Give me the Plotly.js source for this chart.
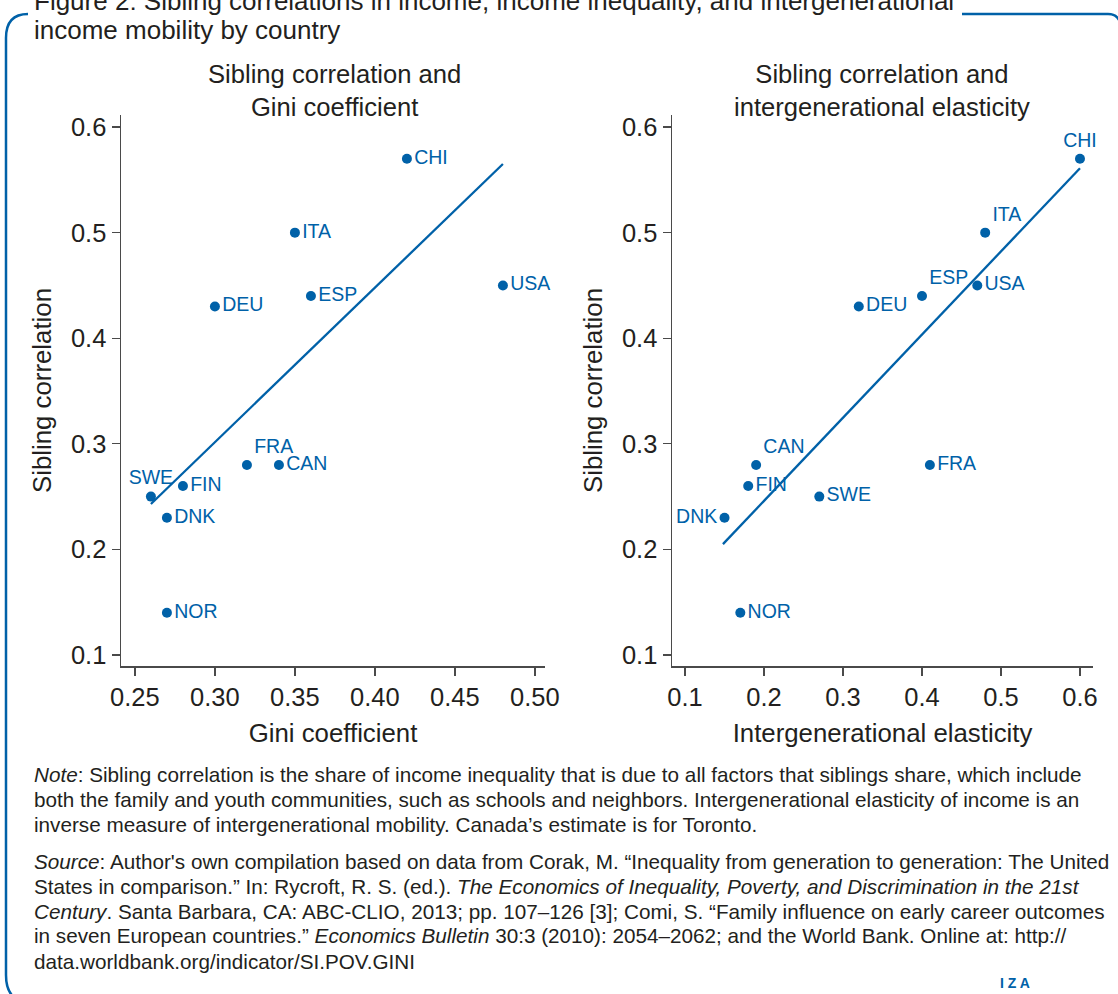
<!DOCTYPE html>
<html>
<head>
<meta charset="utf-8">
<script src="https://cdn.plot.ly/plotly-3.0.1.min.js"></script>
<style>html,body{margin:0;padding:0;background:#fff;}#chart{width:1118px;height:994px;}</style>
</head>
<body>
<div id="chart"></div>
<script>
// ---- data ----
const countries = ["CHI","ITA","USA","ESP","DEU","FRA","CAN","SWE","FIN","DNK","NOR"];
const sibling   = [0.57, 0.50, 0.45, 0.44, 0.43, 0.28, 0.28, 0.25, 0.26, 0.23, 0.14];
const gini      = [0.42, 0.35, 0.48, 0.36, 0.30, 0.32, 0.34, 0.26, 0.28, 0.27, 0.27];
const ige       = [0.60, 0.48, 0.47, 0.40, 0.32, 0.41, 0.19, 0.27, 0.18, 0.15, 0.17];
const giniFitX  = [0.26, 0.48];
const giniFitY  = [0.243, 0.565];
const igeFitX   = [0.148, 0.60];
const igeFitY   = [0.205, 0.561];
const giniTicks = [0.25, 0.30, 0.35, 0.40, 0.45, 0.50];
const giniTickText = ["0.25","0.30","0.35","0.40","0.45","0.50"];
const igeTicks  = [0.1, 0.2, 0.3, 0.4, 0.5, 0.6];
const sibTicks  = [0.1, 0.2, 0.3, 0.4, 0.5, 0.6];

// ---- style ----
const BLUE = "#0061a8";
const INK = "#231f20";
const FONT = "Liberation Sans, Arial, sans-serif";
const posLeft  = {CHI:"middle right",ITA:"middle right",USA:"middle right",ESP:"middle right",DEU:"middle right",
                  FRA:"top right",CAN:"middle right",SWE:"top center",FIN:"middle right",DNK:"middle right",NOR:"middle right"};
const posRight = {CHI:"top center",ITA:"top right",USA:"middle right",ESP:"top right",DEU:"middle right",
                  FRA:"middle right",CAN:"top right",SWE:"middle right",FIN:"middle right",DNK:"middle left",NOR:"middle right"};

// pixel -> paper helpers (plot area spans x 121..1093, y 115..666)
const L=121, R=1093, T=115, B=666;
const px = v => (v - L) / (R - L);
const py = v => 1 - (v - T) / (B - T);

const traces = [
  {x: gini, y: sibling, text: countries, mode: "markers+text", type: "scatter",
   textposition: countries.map(c => posLeft[c]),
   marker: {color: BLUE, size: 10}, textfont: {color: BLUE, size: 19.5, family: FONT},
   xaxis: "x", yaxis: "y", hoverinfo: "skip", cliponaxis: false},
  {x: giniFitX, y: giniFitY, mode: "lines", type: "scatter",
   line: {color: BLUE, width: 2.3}, xaxis: "x", yaxis: "y", hoverinfo: "skip"},
  {x: ige, y: sibling, text: countries, mode: "markers+text", type: "scatter",
   textposition: countries.map(c => posRight[c]),
   marker: {color: BLUE, size: 10}, textfont: {color: BLUE, size: 19.5, family: FONT},
   xaxis: "x2", yaxis: "y2", hoverinfo: "skip", cliponaxis: false},
  {x: igeFitX, y: igeFitY, mode: "lines", type: "scatter",
   line: {color: BLUE, width: 2.3}, xaxis: "x2", yaxis: "y2", hoverinfo: "skip"}
];

const TICKSZ = 25.5, TITLESZ = 25.8;
const axBase = {
  showgrid: false, zeroline: false, showline: true, linecolor: "#4a4a4a", linewidth: 1.5,
  ticks: "outside", ticklen: 8, tickwidth: 1.3, tickcolor: "#4a4a4a",
  tickfont: {size: TICKSZ, color: INK, family: FONT}, automargin: false
};

const ann = [];
function note(text, x, y, opts) {
  ann.push(Object.assign({text: text, x: px(x), y: py(y), xref: "paper", yref: "paper",
    xanchor: "left", yanchor: "middle", showarrow: false,
    font: {size: 20.7, color: INK, family: FONT}}, opts || {}));
}
// figure title
const TFONT = {size: 26, color: INK, family: FONT};
note("Figure 2: Sibling correlations in income, income inequality, and intergenerational", 32, 1, {font: TFONT});
note("income mobility by country", 32, 30, {font: TFONT});
// subplot titles
ann.push({text: "Sibling correlation and<br>Gini coefficient", x: px(334), y: py(90), xref: "paper", yref: "paper",
  xanchor: "center", yanchor: "middle", showarrow: false, font: {size: 25.6, color: INK, family: FONT}});
ann.push({text: "Sibling correlation and<br>intergenerational elasticity", x: px(882), y: py(90), xref: "paper", yref: "paper",
  xanchor: "center", yanchor: "middle", showarrow: false, font: {size: 25.6, color: INK, family: FONT}});
// note & source
const noteLines = [
  "<i>Note</i>: Sibling correlation is the share of income inequality that is due to all factors that siblings share, which include",
  "both the family and youth communities, such as schools and neighbors. Intergenerational elasticity of income is an",
  "inverse measure of intergenerational mobility. Canada’s estimate is for Toronto."
];
const sourceLines = [
  "<i>Source</i>: Author's own compilation based on data from Corak, M. “Inequality from generation to generation: The United",
  "States in comparison.” In: Rycroft, R. S. (ed.). <i>The Economics of Inequality, Poverty, and Discrimination in the 21st</i>",
  "<i>Century</i>. Santa Barbara, CA: ABC-CLIO, 2013; pp. 107–126 [3]; Comi, S. “Family influence on early career outcomes",
  "in seven European countries.” <i>Economics Bulletin</i> 30:3 (2010): 2054–2062; and the World Bank. Online at: http://",
  "data.worldbank.org/indicator/SI.POV.GINI"
];
noteLines.forEach((t, i) => note(t, 32, 774 + i * 25));
sourceLines.forEach((t, i) => note(t, 32, 861 + i * 25));
// IZA mark
ann.push({text: "<b>I Z A</b>", x: px(1015), y: py(983), xref: "paper", yref: "paper", xanchor: "center", yanchor: "middle",
  showarrow: false, font: {size: 14, color: BLUE, family: FONT}});

// frame (rounded box, top edge hidden behind title)
const P = (x, y) => px(x) + "," + py(y);
const shapes = [
  {type: "path", xref: "paper", yref: "paper", line: {color: BLUE, width: 2.5},
   path: "M" + P(28, 14) + " Q" + P(6, 14) + " " + P(6, 38) + " L" + P(6, 975) + " Q" + P(6, 994) + " " + P(18, 1000)},
  {type: "path", xref: "paper", yref: "paper", line: {color: BLUE, width: 2.5},
   path: "M" + P(962, 14) + " L" + P(1108, 14) + " Q" + P(1116, 14) + " " + P(1119, 20)}
];

const layout = {
  width: 1118, height: 994, autosize: false,
  margin: {l: L, r: 1118 - R, t: T, b: 994 - B},
  paper_bgcolor: "#fff", plot_bgcolor: "#fff", showlegend: false,
  font: {family: FONT, color: INK},
  xaxis: Object.assign({}, axBase, {domain: [0, px(545)], range: [0.2413, 0.5063],
    tickvals: giniTicks, ticktext: giniTickText,
    title: {text: "Gini coefficient", font: {size: TITLESZ, color: INK, family: FONT}, standoff: 14}}),
  yaxis: Object.assign({}, axBase, {range: [0.0896, 0.6114], tickvals: sibTicks,
    ticktext: sibTicks.map(v => v.toFixed(1)),
    title: {text: "Sibling correlation", font: {size: TITLESZ, color: INK, family: FONT}, standoff: 12}}),
  xaxis2: Object.assign({}, axBase, {domain: [px(672), 1], range: [0.0835, 0.6165], anchor: "y2",
    tickvals: igeTicks, ticktext: igeTicks.map(v => v.toFixed(1)),
    title: {text: "Intergenerational elasticity", font: {size: TITLESZ, color: INK, family: FONT}, standoff: 14}}),
  yaxis2: Object.assign({}, axBase, {range: [0.0896, 0.6114], anchor: "x2", tickvals: sibTicks,
    ticktext: sibTicks.map(v => v.toFixed(1)),
    title: {text: "Sibling correlation", font: {size: TITLESZ, color: INK, family: FONT}, standoff: 12}}),
  annotations: ann,
  shapes: shapes
};

Plotly.newPlot("chart", traces, layout, {displayModeBar: false, staticPlot: true});
</script>
</body>
</html>
